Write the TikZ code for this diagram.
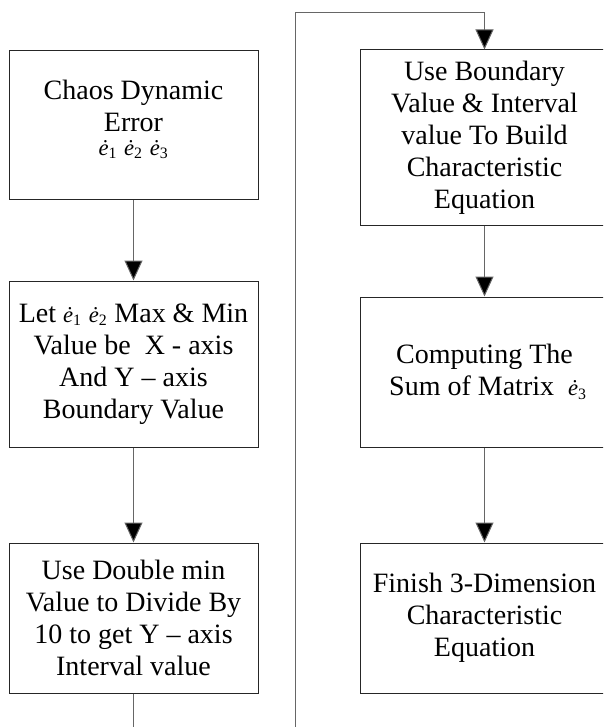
\documentclass[tikz,border=0pt]{standalone}
\usepackage{fontspec}
\setmainfont{Liberation Serif}
\usetikzlibrary{arrows.meta}

\newcommand{\edt}[1]{{\fontsize{17}{19}\selectfont\textit{\.e}\textsubscript{#1}}}

\tikzset{every picture/.style={line width=0.75pt}}
\tikzset{
  flowbox/.style={draw=black!85, rectangle, inner sep=0pt, minimum width=186.75pt, align=center, font=\fontsize{21}{24}\selectfont},
  flowline/.style={draw=black!60, -{Triangle[length=15pt,width=13.5pt,fill=black]}},
  plainline/.style={draw=black!60}
}

\begin{document}
\begin{tikzpicture}[x=0.75pt,y=0.75pt,yscale=-1,xscale=1]
	%set diagram size 603 x 727
	\clip (0,0) rectangle (603,727);

	%left column
	\node [flowbox, minimum height=111.75pt] (chaos) at (133.5,125.5) {Chaos Dynamic\\ Error\\[-6pt] \edt{1} \edt{2} \edt{3}\rule[-12pt]{0pt}{0pt}};
	\node [flowbox, minimum height=124.5pt] (letmax) at (133.5,364) {Let \edt{1} \edt{2} Max \& Min\\ Value be~ X - axis\\ And Y -- axis\\ Boundary Value};
	\node [flowbox, minimum height=112.5pt] (double) at (133.5,618) {Use Double min\\ Value to Divide By\\ 10 to get Y -- axis\\ Interval value};

	%right column
	\node [flowbox, minimum height=131.25pt] (build) at (484.5,137.5) {Use Boundary\\ Value \& Interval\\ value To Build\\ Characteristic\\ Equation};
	\node [flowbox, minimum height=112.5pt] (matsum) at (484.5,372) {Computing The\\ ~Sum of Matrix~ \edt{3}};
	\node [flowbox, minimum height=112.5pt] (finish) at (484.5,618) {Finish 3-Dimension\\ Characteristic\\ Equation};

	%page break ends
	\coordinate (leftend) at (133.5,727);
	\coordinate (rightstart) at (295,727);
	\coordinate (corner) at (295,13);

	%connectors
	\draw [flowline] (chaos) -- (letmax);
	\draw [flowline] (letmax) -- (double);
	\draw [plainline] (double) -- (leftend);
	\draw [flowline] (rightstart) -- (corner) -| (build);
	\draw [flowline] (build) -- (matsum);
	\draw [flowline] (matsum) -- (finish);

\end{tikzpicture}
\end{document}
